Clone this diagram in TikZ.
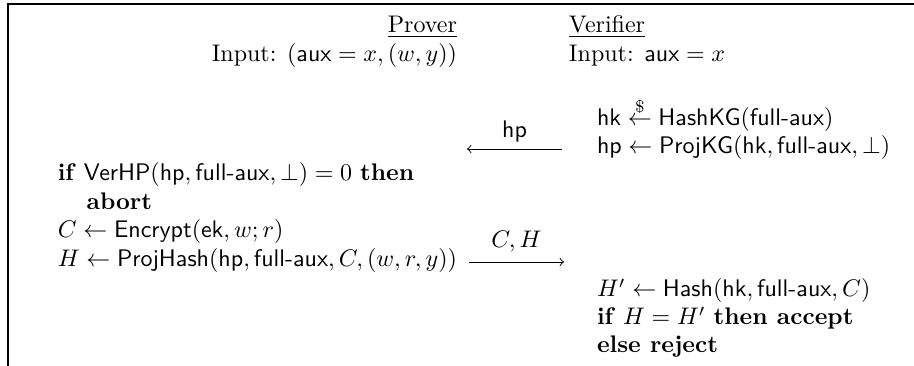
\documentclass[tikz,border=0pt]{standalone}
\usepackage{amsmath,amssymb}
\newcommand{\fa}{\textsf{full-aux}}
\newcommand{\sfm}[1]{\textsf{#1}}
\begin{document}
\begin{tikzpicture}[x=0.41667pt,y=-0.41667pt,
  txt/.style={inner sep=0pt,outer sep=0pt},
  lt/.style={txt,anchor=base west},
  rt/.style={txt,anchor=base east},
  msg/.style={->,>=to,line width=0.4pt}]
\useasboundingbox (0,0) rectangle (914,366);
\draw[line width=0.6pt] (8,366) -- (8,4) -- (914,4);
% headers
\node[rt] (prover) at (457,33) {\underline{Prover}};
\node[rt] (pin) at (457,62) {Input: $(\sfm{aux}=x,(w,y))$};
\node[lt] (verifier) at (569,33) {\underline{Verifier}};
\node[lt] (vin) at (569,62) {Input: $\sfm{aux}=x$};
% verifier first
\node[lt] (hk) at (597,126) {$\sfm{hk}\stackrel{\$}{\leftarrow}\sfm{HashKG}(\fa)$};
\node[lt] (hp) at (597,154) {$\sfm{hp}\leftarrow\sfm{ProjKG}(\sfm{hk},\fa,\bot)$};
% message hp
\coordinate (hpR) at (562,149);
\coordinate (hpL) at (467,149);
\draw[msg] (hpR) -- node[txt,above=3pt] (hplab) {\sfm{hp}} (hpL);
% prover (left column ends at the column edge x=457)
\node[rt] (ph) at (457,267) {$H\leftarrow\sfm{ProjHash}(\sfm{hp},\fa,C,(w,r,y))$};
\coordinate (r1) at (0,181);
\coordinate (r2) at (0,210);
\coordinate (r3) at (0,238);
\node[lt] (ver) at (ph.base west |- r1) {\textbf{if} $\sfm{VerHP}(\sfm{hp},\fa,\bot)=0$ \textbf{then}};
\node[lt,xshift=12pt] (abort) at (ph.base west |- r2) {\textbf{abort}};
\node[lt] (enc) at (ph.base west |- r3) {$C\leftarrow\sfm{Encrypt}(\sfm{ek},w;r)$};
% message C,H
\coordinate (chL) at (469,262);
\coordinate (chR) at (564,262);
\draw[msg] (chL) -- node[txt,above=4pt] (chlab) {$C,H$} (chR);
% verifier check
\node[lt] (hh) at (597,297) {$H'\leftarrow\sfm{Hash}(\sfm{hk},\fa,C)$};
\node[lt] (acc) at (597,325) {\textbf{if} $H=H'$ \textbf{then accept}};
\node[lt] (rej) at (597,353) {\textbf{else reject}};
\end{tikzpicture}
\end{document}
